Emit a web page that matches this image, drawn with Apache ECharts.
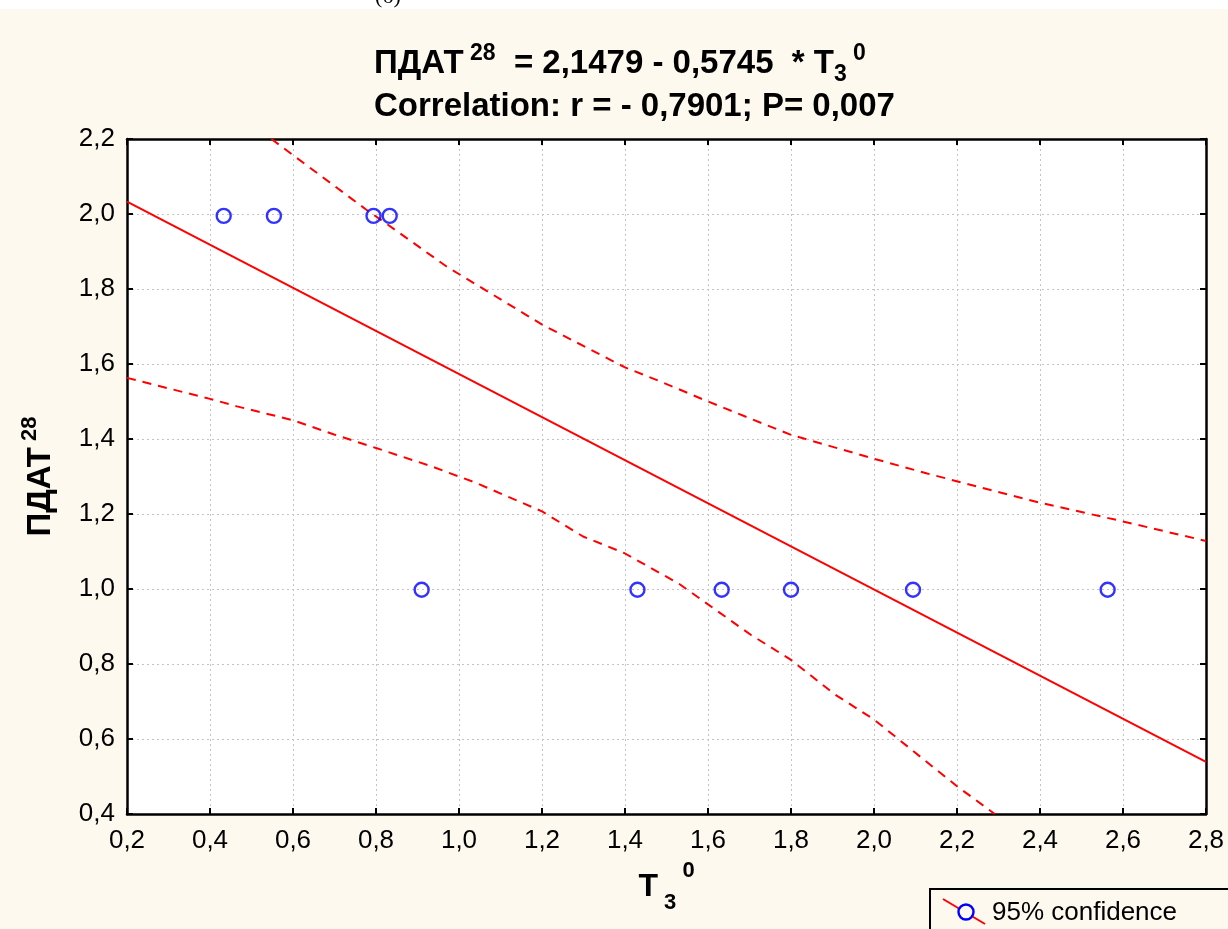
<!DOCTYPE html>
<html>
<head>
<meta charset="utf-8">
<script src="https://cdn.jsdelivr.net/npm/echarts@6/dist/echarts.min.js"></script>
<style>
html,body{margin:0;padding:0;background:#fdf9ee;}
#chart{width:1228px;height:929px;}
</style>
</head>
<body>
<div id="chart"></div>
<script>
// ---- data ----
const pointX = [0.433, 0.554, 0.794, 0.833, 0.910, 1.430, 1.633, 1.800, 2.094, 2.563];
const pointY = [1.995, 1.995, 1.995, 1.995, 0.998, 0.998, 0.998, 0.998, 0.998, 0.998];
const fitX = [0.2, 2.8];
const fitY = [2.033, 0.539];
const upperX = [0.548, 0.776, 0.828, 0.970, 1.202, 1.400, 1.484, 1.600, 1.800, 1.998, 2.128, 2.400, 2.593, 2.800];
const upperY = [2.200, 2.012, 1.972, 1.860, 1.704, 1.591, 1.554, 1.500, 1.411, 1.348, 1.308, 1.230, 1.182, 1.128];
const lowerX = [0.2, 0.4, 0.465, 0.6, 0.699, 0.8, 0.929, 1.041, 1.2, 1.299, 1.398, 1.53, 1.595, 1.703, 1.8, 1.871, 1.907, 2.0, 2.2, 2.291];
const lowerY = [1.563, 1.507, 1.487, 1.450, 1.412, 1.376, 1.329, 1.283, 1.207, 1.140, 1.096, 1.014, 0.963, 0.878, 0.811, 0.749, 0.718, 0.652, 0.474, 0.400];
const xTickLabels = ['0,2','0,4','0,6','0,8','1,0','1,2','1,4','1,6','1,8','2,0','2,2','2,4','2,6','2,8'];
const yTickLabels = ['0,4','0,6','0,8','1,0','1,2','1,4','1,6','1,8','2,0','2,2'];
const legendLabel = '95% confidence';

const zip = (a, b) => a.map((v, i) => [v, b[i]]);
const FONT = '"Liberation Sans", Arial, sans-serif';
const CREAM = '#fdf9ee';

const chart = echarts.init(document.getElementById('chart'), null, {renderer: 'canvas'});

const baseAxis = {
  axisLine: {show: true, lineStyle: {color: '#000', width: 2.5}},
  axisTick: {show: true, inside: true, length: 6, lineStyle: {color: '#000', width: 2}},
  splitLine: {show: false},
};

const option = {
  backgroundColor: CREAM,
  animation: false,
  title: {
    left: 369, top: 37,
    text: '{t|ПДАТ}{sup| 28}{t|  = 2,1479 - 0,5745  * T}{sub|3}{sp| }{sup|0}\n{t|Correlation: r = - 0,7901; P= 0,007}',
    textStyle: {
      fontFamily: FONT, fontWeight: 'bold', fontSize: 33, color: '#000',
      rich: {
        t: {fontFamily: FONT, fontWeight: 'bold', fontSize: 33, color: '#000', lineHeight: 41},
        sup: {fontFamily: FONT, fontWeight: 'bold', fontSize: 23, color: '#000', verticalAlign: 'top', lineHeight: 44},
        sub: {fontFamily: FONT, fontWeight: 'bold', fontSize: 23, color: '#000', verticalAlign: 'bottom', lineHeight: 34},
        sp: {fontFamily: FONT, fontSize: 22, lineHeight: 41}
      }
    }
  },
  grid: {left: 127, right: 22, top: 139, bottom: 115, show: true, backgroundColor: '#ffffff', borderWidth: 0},
  xAxis: [
    Object.assign({}, baseAxis, {
      type: 'value', position: 'bottom', min: 0.2, max: 2.8, interval: 0.2,
      name: '{t|T}{sub| 3}{sup| 0}',
      nameLocation: 'middle', nameGap: 46,
      nameTextStyle: {
        fontFamily: FONT, fontWeight: 'bold', fontSize: 32, color: '#000',
        rich: {
          t: {fontFamily: FONT, fontWeight: 'bold', fontSize: 32, color: '#000', lineHeight: 40},
          sub: {fontFamily: FONT, fontWeight: 'bold', fontSize: 22, color: '#000', verticalAlign: 'bottom', lineHeight: 28},
          sup: {fontFamily: FONT, fontWeight: 'bold', fontSize: 22, color: '#000', verticalAlign: 'top', lineHeight: 54}
        }
      },
      axisLabel: {show: true, margin: 14, fontFamily: FONT, fontSize: 26, color: '#000',
        formatter: (v, i) => xTickLabels[i]},
      splitLine: {show: true, lineStyle: {color: '#c4c4c4', width: 1, type: [2, 3]}}
    }),
    Object.assign({}, baseAxis, {
      type: 'value', position: 'top', min: 0.2, max: 2.8, interval: 0.2,
      axisLabel: {show: false}
    })
  ],
  yAxis: [
    Object.assign({}, baseAxis, {
      type: 'value', position: 'left', min: 0.4, max: 2.2, interval: 0.2,
      name: '{t|ПДАТ}{sup| 28}',
      nameLocation: 'middle', nameGap: 64, nameRotate: 90,
      nameTextStyle: {
        fontFamily: FONT, fontWeight: 'bold', fontSize: 33, color: '#000',
        rich: {
          t: {fontFamily: FONT, fontWeight: 'bold', fontSize: 33, color: '#000', lineHeight: 40},
          sup: {fontFamily: FONT, fontWeight: 'bold', fontSize: 22, color: '#000', verticalAlign: 'top', lineHeight: 44}
        }
      },
      axisLabel: {show: true, margin: 12, fontFamily: FONT, fontSize: 26, color: '#000',
        formatter: (v, i) => yTickLabels[i]},
      splitLine: {show: true, lineStyle: {color: '#c4c4c4', width: 1, type: [2, 3]}}
    }),
    Object.assign({}, baseAxis, {
      type: 'value', position: 'right', min: 0.4, max: 2.2, interval: 0.2,
      axisLabel: {show: false}
    })
  ],
  series: [
    {
      name: 'fit', type: 'line', data: zip(fitX, fitY), showSymbol: false, symbol: 'none',
      lineStyle: {color: '#ff0000', width: 2}, z: 3, silent: true
    },
    {
      name: 'upper', type: 'line', data: zip(upperX, upperY), showSymbol: false, symbol: 'none',
      lineStyle: {color: '#ff0000', width: 2, type: [9, 7]}, z: 3, silent: true
    },
    {
      name: 'lower', type: 'line', data: zip(lowerX, lowerY), showSymbol: false, symbol: 'none',
      lineStyle: {color: '#ff0000', width: 2, type: [9, 7]}, z: 3, silent: true
    },
    {
      name: 'points', type: 'scatter', data: zip(pointX, pointY), symbol: 'circle', symbolSize: 14,
      itemStyle: {color: 'rgba(0,0,0,0)', borderColor: '#0000ff', borderWidth: 2.4}, z: 4, silent: true
    }
  ],
  graphic: [
    {type: 'rect', shape: {x: 0, y: 0, width: 1228, height: 9}, style: {fill: '#ffffff'}, z: 10, silent: true},
    {type: 'text', x: 388, y: -3, style: {text: '(б)', font: '22px "Liberation Serif", serif', fill: '#000', textAlign: 'center', textVerticalAlign: 'middle'}, z: 11, silent: true},
    {type: 'rect', shape: {x: 0, y: 9, width: 1228, height: 16}, style: {fill: CREAM}, z: 12, silent: true},
    {type: 'rect', shape: {x: 930, y: 889, width: 320, height: 60}, style: {fill: CREAM, stroke: '#000', lineWidth: 2}, z: 10, silent: true},
    {type: 'line', shape: {x1: 943, y1: 899, x2: 985, y2: 924}, style: {stroke: '#ff0000', lineWidth: 2}, z: 11, silent: true},
    {type: 'circle', shape: {cx: 966, cy: 912, r: 7.5}, style: {fill: CREAM, stroke: '#0000ff', lineWidth: 2.4}, z: 12, silent: true},
    {type: 'text', x: 992, y: 913, style: {text: legendLabel, font: '26px "Liberation Sans", Arial, sans-serif', fill: '#000', textVerticalAlign: 'middle'}, z: 12, silent: true}
  ]
};
chart.setOption(option);
</script>
</body>
</html>
